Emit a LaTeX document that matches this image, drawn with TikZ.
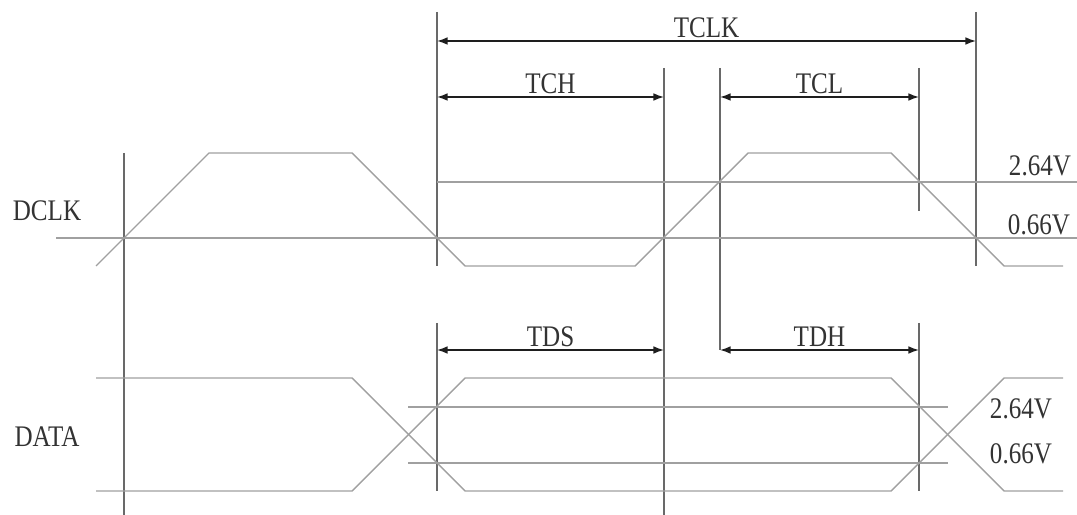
\documentclass[tikz,border=0pt]{standalone}
\usepackage{fontspec}
\newfontfamily\sigfont{Liberation Serif}[FakeStretch=0.84]
\usetikzlibrary{arrows.meta}
\definecolor{wavegray}{RGB}{160,160,160}
\definecolor{tickgray}{RGB}{105,105,105}
\definecolor{dimgray}{RGB}{30,30,30}

\begin{document}
\begin{tikzpicture}[x=0.2mm,y=-0.2mm,>={Latex[length=6pt,width=4.4pt]},
    wave/.style={wavegray,line width=0.8pt},
    tick/.style={tickgray,line width=0.6pt},
    dim/.style={<->,dimgray,line width=0.9pt},
    lbl/.style={font=\sigfont\fontsize{17}{20}\selectfont,text=black!80,inner sep=0pt}]
        \useasboundingbox (0,0) rectangle (1077,515);
        \foreach \x/\a/\b in {124/153/515,437/12/266,976/12/266,664/68/515,720/68/350,919/68/211,437/323/491,919/323/491}
        {
            \draw[tick] (\x,\a)--(\x,\b);
        }
        \draw[wave] (56,238)--(1077,238);
        \draw[wave] (437,182)--(1077,182);
        \draw[wave] (408,407)--(948,407);
        \draw[wave] (408,463)--(948,463);
        \draw[wave] (96,266)--(209,153)--(352,153)--(465,266)--(635,266)--(748,153)--(891,153)--(1004,266)--(1063,266);
        \draw[wave] (96,378)--(352,378)--(465,491)--(891,491)--(1004,378)--(1063,378);
        \draw[wave] (96,491)--(352,491)--(465,378)--(891,378)--(1004,491)--(1063,491);
        \coordinate (tclkL) at (437,41);
        \coordinate (tclkR) at (976,41);
        \coordinate (tchL) at (437,97);
        \coordinate (tchR) at (664,97);
        \coordinate (tclL) at (720,97);
        \coordinate (tclR) at (919,97);
        \coordinate (tdsL) at (437,350);
        \coordinate (tdsR) at (664,350);
        \coordinate (tdhL) at (720,350);
        \coordinate (tdhR) at (919,350);
        \foreach \n/\t in {tclk/TCLK,tch/TCH,tcl/TCL,tds/TDS,tdh/TDH}
        {
            \draw[dim] (\n L)--(\n R) node[midway,lbl,above=1.5pt] (\n) {\t};
        }
        \node[lbl] (dclk) at (47,211) {DCLK};
        \node[lbl] (data) at (47,437) {DATA};
        \node[lbl] (clkhi) at (1040,166) {2.64V};
        \node[lbl] (clklo) at (1039,225) {0.66V};
        \node[lbl] (dathi) at (1021,409) {2.64V};
        \node[lbl] (datlo) at (1021,454) {0.66V};
    \end{tikzpicture}
\end{document}
